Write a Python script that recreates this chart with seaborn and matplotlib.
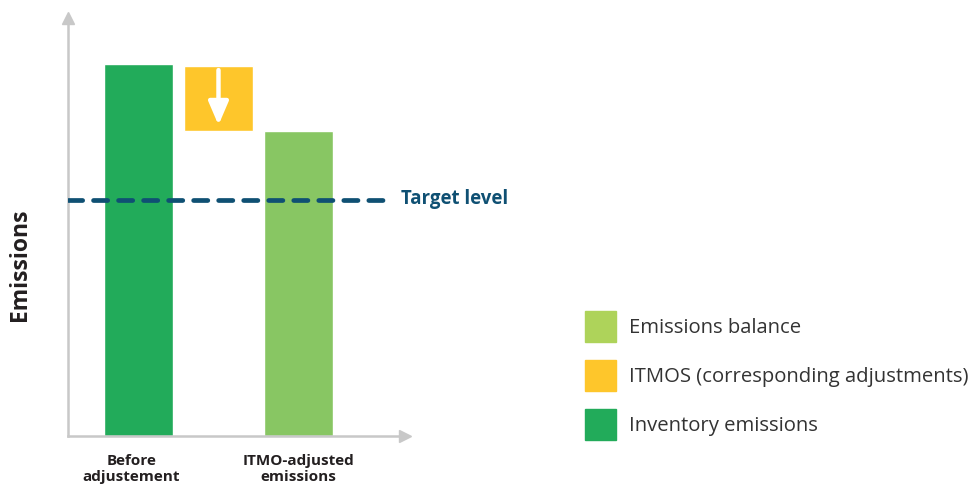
import matplotlib.pyplot as plt
import matplotlib.transforms as mtransforms
import seaborn as sns
import pandas as pd
from matplotlib.patches import Patch

# values (arbitrary emission units)
stages = ["Before adjustement", "ITMOs", "ITMO-adjusted emissions"]
inventory_emissions = 100.0
itmo_adjustment = 17.5
emissions_balance = 82.0
target_level = 63.4

tick_labels = ["Before\nadjustement", "ITMO-adjusted\nemissions"]
legend_labels = ["Emissions balance", "ITMOS (corresponding adjustments)", "Inventory emissions"]

green = "#22ab5a"
light_green = "#88c663"
legend_light_green = "#aed35a"
yellow = "#fec62b"
navy = "#0f5073"
axis_grey = "#c8c8c8"

sns.set_style("white")
plt.rcParams["font.family"] = ["Open Sans", "DejaVu Sans"]

df = pd.DataFrame({
    "stage": [stages[0], stages[2]],
    "value": [inventory_emissions, emissions_balance],
})

fig = plt.figure(figsize=(9.71, 4.90), dpi=100)
ax = fig.add_axes([68 / 971, 54 / 490, 337 / 971, 418 / 490])

sns.barplot(data=df, x="stage", y="value", hue="stage", order=stages,
            palette={stages[0]: green, stages[2]: light_green},
            width=0.86, saturation=1, legend=False, ax=ax)

# floating ITMO bar on top of the balance
ax.bar(1, itmo_adjustment, bottom=emissions_balance, width=0.86, color=yellow)
ax.annotate("", xy=(1, emissions_balance + 1.6), xytext=(1, inventory_emissions - 1.6),
            arrowprops=dict(arrowstyle="-|>,head_width=0.6,head_length=1.4",
                            color="white", lw=3.2, shrinkA=0, shrinkB=0))

ax.set_xlim(-0.88, 3.33)
ax.set_ylim(0, 112.4)

# target line
ax.plot([-0.88, 3.14], [target_level, target_level], color=navy, lw=3.4,
        linestyle=(0, (3.0, 2.3)), dash_capstyle="round", solid_capstyle="round", zorder=3)
ax.text(3.28, target_level + 0.4, "Target level", color=navy, fontsize=13.4,
        fontweight="bold", va="center", ha="left")

# axes with arrow heads
for side in ["top", "right"]:
    ax.spines[side].set_visible(False)
for side in ["left", "bottom"]:
    ax.spines[side].set_color(axis_grey)
    ax.spines[side].set_linewidth(1.8)
ax.plot(0, 1, marker="^", color=axis_grey, markersize=8, transform=ax.transAxes, clip_on=False)
ax.plot(1, 0, marker=">", color=axis_grey, markersize=8, transform=ax.transAxes, clip_on=False)

ax.set_yticks([])
ax.set_xticks([0, 2])
ax.set_xticklabels(tick_labels, fontsize=11, fontweight="bold", color="#231f20", linespacing=1.15)
ax.tick_params(axis="x", length=0, pad=13)
# first label sits a little left of its bar in the original
first = ax.get_xticklabels()[0]
first.set_transform(first.get_transform() + mtransforms.ScaledTranslation(-0.07, 0, fig.dpi_scale_trans))
ax.set_xlabel("")
ax.set_ylabel("Emissions", fontsize=16.5, fontweight="bold", color="#231f20")
ax.yaxis.set_label_coords(-0.108, 0.41)

handles = [Patch(color=legend_light_green), Patch(color=yellow), Patch(color=green)]
fig.legend(handles, legend_labels, loc="upper left", bbox_to_anchor=(585 / 971, 1 - 311 / 490),
           frameon=False, fontsize=14.6, handlelength=1.53, handleheight=1.97,
           labelspacing=0.89, handletextpad=0.64, borderpad=0, borderaxespad=0,
           labelcolor="#333333")

fig.savefig("out.png", dpi=100)
